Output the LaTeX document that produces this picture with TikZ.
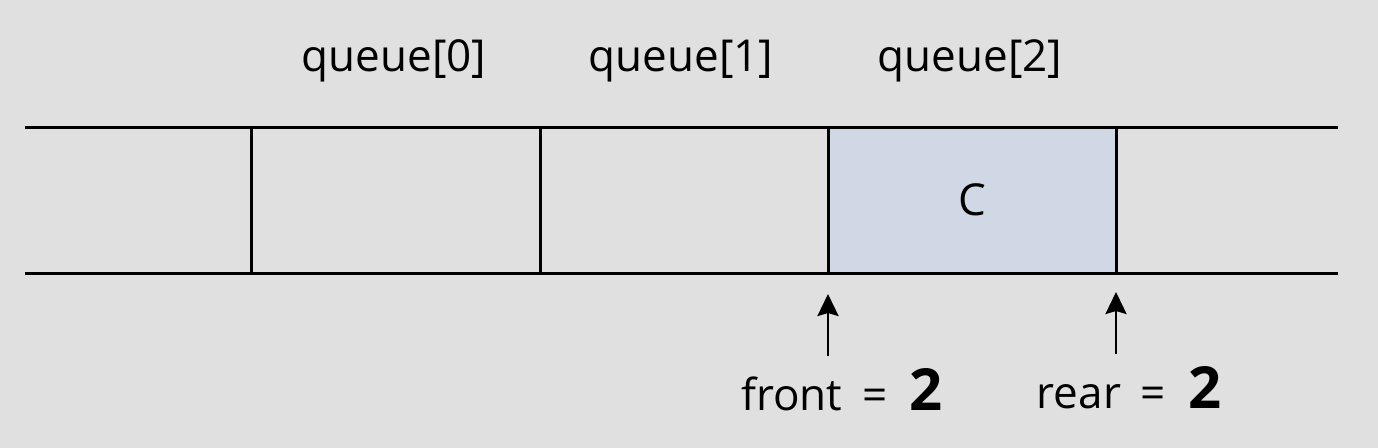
\documentclass[tikz,border=0pt]{standalone}
\usepackage{fontspec}
\setmainfont{Open Sans}
\usetikzlibrary{arrows.meta}
\definecolor{bgc}{HTML}{E0E0E0}
\definecolor{cellc}{HTML}{D1D8E5}
\begin{document}
\begin{tikzpicture}[x=0.5pt,y=-0.5pt,
  lbl/.style={anchor=base,inner sep=0pt,font=\fontsize{22}{26}\selectfont,text=black},
  wall/.style={line width=1.5pt,black},
  ptr/.style={line width=1.4pt,-{Stealth[length=11pt,width=10.5pt,inset=1.5pt]}}]
\useasboundingbox[fill=bgc] (0,0) rectangle (1378,448);
% highlighted cell
\fill[cellc] (828,128) rectangle (1116,274);
% horizontal lines
\coordinate (tl) at (25,128); \coordinate (tr) at (1338,128);
\coordinate (bl) at (25,274); \coordinate (br) at (1338,274);
\draw[wall] (tl) -- (tr);
\draw[wall] (bl) -- (br);
% vertical walls
\foreach \x/\n in {251/a,540/b,828/c,1116/d}{
  \coordinate (\n t) at (\x,128); \coordinate (\n b) at (\x,274);
  \draw[wall] (\n t) -- (\n b);
}
% labels
\node[lbl] (q0) at (394,72) {queue[0]};
\node[lbl] (q1) at (681,72) {queue[1]};
\node[lbl] (q2) at (970,72) {queue[2]};
\node[lbl] (cc) at (972,216) {C};
% pointers
\coordinate (fs) at (828,356); \coordinate (fe) at (828,294);
\coordinate (rs) at (1116,354); \coordinate (re) at (1116,292);
\draw[ptr] (fs) -- (fe);
\draw[ptr] (rs) -- (re);
\node[lbl] (front) at (842,411) {front\hspace{0.45em}=\hspace{0.5em}{\fontsize{29}{32}\selectfont\bfseries 2}};
\node[lbl] (rear) at (1129,409) {rear\hspace{0.45em}=\hspace{0.5em}{\fontsize{29}{32}\selectfont\bfseries 2}};
\end{tikzpicture}
\end{document}
